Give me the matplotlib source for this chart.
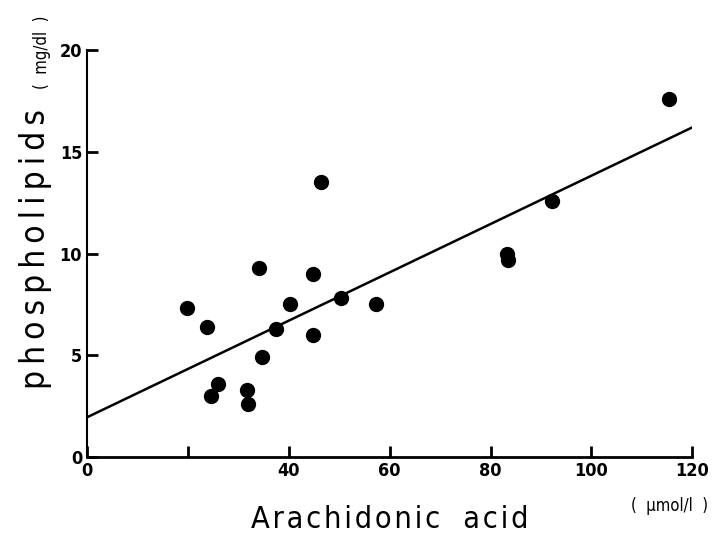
import matplotlib
matplotlib.use("Agg")
import matplotlib.pyplot as plt
import numpy as np

# Data
arachidonic = [19.8, 23.8, 24.6, 26.0, 31.7, 31.9, 34.1, 34.7, 37.5, 40.2,
               44.8, 44.8, 46.4, 50.3, 57.3, 83.2, 83.4, 92.2, 115.3]
phospho = [7.3, 6.4, 3.0, 3.6, 3.3, 2.6, 9.3, 4.9, 6.3, 7.5,
           9.0, 6.0, 13.5, 7.8, 7.5, 10.0, 9.7, 12.6, 17.6]
line_x = [0, 120]
line_y = [1.95, 16.2]
xticks = [0, 20, 40, 60, 80, 100, 120]
xticklabels = ["0", "", "40", "60", "80", "100", "120"]
yticks = [0, 5, 10, 15, 20]
xlabel_words = ["Arachidonic", "acid"]
ylabel_words = ["phospholipids"]

plt.rcParams['font.family'] = ['DejaVu Sans']

HS = "\u200a"  # hair space for letter spacing


def spaced(words, n):
    gap = HS * n
    return (gap + "  " + gap).join(gap.join(w) for w in words)


fig = plt.figure(figsize=(7.16, 5.36), dpi=100)
ax = fig.add_axes([0.1215, 0.1474, 0.967 - 0.1215, 0.9067 - 0.1474])

ax.plot(line_x, line_y, color='black', lw=1.8, zorder=2)
ax.plot(arachidonic, phospho, 'o', color='black', markersize=10, zorder=3)

ax.set_xlim(0, 120)
ax.set_ylim(0, 20)
ax.spines['top'].set_visible(False)
ax.spines['right'].set_visible(False)
ax.spines['left'].set_linewidth(1.5)
ax.spines['bottom'].set_linewidth(2.0)

ax.set_xticks(xticks)
ax.set_xticklabels(xticklabels)
ax.set_yticks(yticks)
ax.tick_params(axis='both', direction='in', length=8, width=2, labelsize=13)
for lab in ax.get_xticklabels() + ax.get_yticklabels():
    lab.set_fontweight('bold')
    lab.set_fontstretch('condensed')

renderer = fig.canvas.get_renderer()


def fit_text(t, words, target, along):
    best = None
    for n in range(0, 12):
        t.set_text(spaced(words, n))
        bb = t.get_window_extent(renderer)
        size = bb.width if along == 'x' else bb.height
        err = abs(size - target)
        if best is None or err < best[0]:
            best = (err, n)
    t.set_text(spaced(words, best[1]))


xl = fig.text(0.545, 0.014, "", fontsize=22,
              ha='center', va='baseline', fontstretch='condensed')
fit_text(xl, xlabel_words, 292, 'x')

yl = fig.text(0.05, 0.535, "", fontsize=24, rotation=90,
              ha='center', va='center', fontstretch='condensed')
fit_text(yl, ylabel_words, 278, 'y')

fig.text(0.989, 0.04, "(  μmol/l  )", fontsize=12, ha='right', va='bottom',
         fontstretch='condensed')
fig.text(0.058, 0.903, "(  mg/dl  )", fontsize=12, rotation=90,
         ha='center', va='center', fontstretch='condensed')

fig.savefig("out.png", dpi=100)
